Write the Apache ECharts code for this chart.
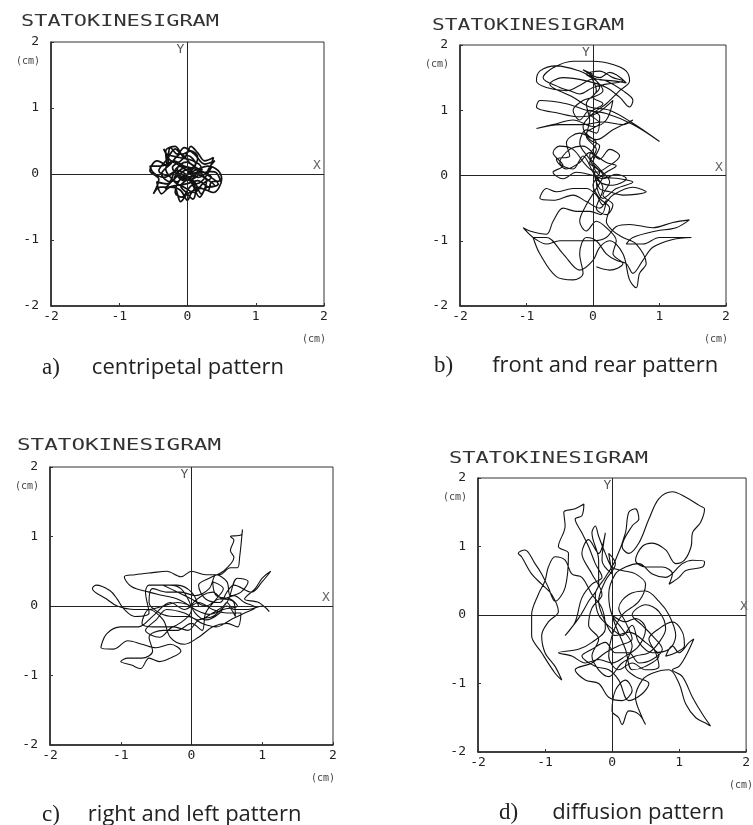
<!DOCTYPE html>
<html>
<head>
  <meta charset="utf-8">
  <title>Statokinesigram patterns</title>
  <script src="https://cdn.jsdelivr.net/npm/echarts@6/dist/echarts.min.js"></script>
  <style>
    html, body { margin: 0; padding: 0; background: #fff; }
    #main { width: 753px; height: 825px; }
  </style>
</head>
<body>
  <div id="main"></div>
  <script type="text/javascript">
    // sway traces, [x, y] in cm
    var tickValues = [-2, -1, 0, 1, 2];
    var captionTags = ['a)', 'b)', 'c)', 'd)'];
    var captionTexts = ['centripetal pattern', 'front and rear pattern', 'right and left pattern', 'diffusion pattern'];

    var traceA = [
      [0,0],[0.05,0.08],[-0.1,0.12],[-0.18,0.05],[-0.05,-0.1],[0.12,-0.05],[0.2,0.1],[0.08,0.2],[-0.12,0.25],[-0.3,0.3],
      [-0.35,0.38],[-0.28,0.18],[-0.4,0.12],[-0.55,0.12],[-0.5,0.02],[-0.35,-0.05],[-0.2,0.02],[-0.3,-0.15],[-0.45,-0.12],[-0.38,-0.3],
      [-0.25,-0.2],[-0.1,-0.25],[0,-0.4],[0.05,-0.3],[0.15,-0.2],[0.3,-0.25],[0.35,-0.12],[0.48,-0.1],[0.42,0.02],[0.3,0.05],
      [0.4,0.2],[0.25,0.15],[0.1,0.3],[-0.05,0.4],[-0.15,0.3],[-0.25,0.4],[-0.28,0.25],[-0.15,0.15],[0,0.05],[0.18,-0.02],
      [0.28,-0.1],[0.2,-0.3],[0.1,-0.12],[-0.05,-0.02],[-0.15,-0.12],[-0.25,-0.05],[-0.32,0.08],[-0.2,0.2],[-0.05,0.12],[0.1,0.08],
      [0.25,0.02],[0.35,0.1],[0.2,-0.12],[0.05,-0.18],[-0.08,-0.35],[-0.18,-0.28],[-0.12,-0.1],[0.02,0.02],[0.12,0.15],[0,0.28],
      [-0.1,0.2],[-0.22,0.1],[-0.12,-0.02],[0.05,-0.08],[0.18,0.05],[0.3,-0.02],[0.45,-0.15],[0.32,-0.2],[0.15,-0.1],[-0.02,-0.15],
      [-0.2,-0.18],[-0.33,-0.22],[-0.2,-0.08],[-0.05,0.05],[0.08,0.1],[0.15,0.25],[0.05,0.35],[-0.08,0.3],[-0.18,0.38],[-0.3,0.22],
      [-0.42,0.05],[-0.3,-0.02],[-0.15,0.05],[0.02,-0.05],[0.12,-0.25],[0.08,-0.38],[-0.02,-0.28],[-0.1,-0.18],[0.05,-0.05],[0.22,0.08],
      [0.12,0.02],[0,0],[0.1,0.05],[0.3,0.12],[0.45,0.05],[0.5,-0.08],[0.38,-0.28],[0.2,-0.22],[0,-0.3],[-0.1,-0.42],
      [-0.2,-0.2],[-0.4,-0.2],[-0.5,-0.3],[-0.42,-0.08],[-0.55,0.05],[-0.45,0.2],[-0.3,0.12],[-0.32,0.35],[-0.18,0.42],[-0.05,0.25],
      [0.05,0.42],[0.15,0.32],[0.25,0.2],[0.38,0.25],[0.3,0.05],[0.15,-0.05],[0,0.1],[-0.12,0.05],[-0.2,-0.1],[-0.05,-0.2],
      [0.1,-0.28],[0.22,-0.15],[0.35,-0.05],[0.2,0.05],[0.05,0.15],[-0.1,0.3],[-0.25,0.15],[-0.38,0],[-0.25,-0.12],[-0.1,0],
      [0.05,-0.12],[0.18,-0.35],[0.28,-0.2],[0.4,-0.18],[0.25,-0.05],[0.12,0.1],[-0.02,0.18],[-0.15,0.08],[-0.05,-0.08],[0.1,0]
    ];

    var traceB = [
      [0,1.55],[-0.15,1.62],[0.1,1.5],[0.25,1.58],[0.5,1.42],[0.3,1.45],[0.05,1.48],[-0.2,1.6],[-0.55,1.68],[-0.8,1.6],
      [-0.85,1.45],[-0.7,1.35],[-0.4,1.3],[-0.2,1.38],[0,1.48],[0.2,1.45],[0.45,1.3],[0.6,1.15],[0.55,1.05],[0.4,1.2],
      [0.2,1.35],[-0.1,1.45],[-0.45,1.5],[-0.65,1.4],[-0.3,1.2],[-0.05,1.05],[0.25,1.0],[0.6,0.8],[1.0,0.52],[0.6,0.78],
      [0.2,0.95],[-0.1,1.0],[-0.4,1.1],[-0.8,1.15],[-0.85,1.05],[-0.5,0.95],[-0.2,0.9],[0.05,0.95],[0.3,1.15],[0.2,0.85],
      [0,0.75],[-0.3,0.85],[-0.6,0.78],[-0.85,0.72],[-0.5,0.78],[-0.15,0.78],[0.15,0.82],[0.45,0.78],[0.6,0.85],[0.3,0.7],
      [0.05,0.55],[-0.2,0.65],[-0.4,0.5],[-0.35,0.3],[-0.55,0.25],[-0.4,0.1],[-0.2,0.2],[-0.05,0.35],[0.1,0.25],[0.25,0.4],
      [0.4,0.3],[0.2,0.12],[0.05,0.05],[-0.1,0.15],[-0.3,0.4],[-0.5,0.45],[-0.6,0.35],[-0.45,0.15],[-0.6,0.05],[-0.45,-0.05],
      [-0.25,0.05],[0,0],[0.15,-0.05],[0.35,0.02],[0.5,-0.05],[0.3,-0.15],[0.1,-0.1],[0,0.1],[0.1,-0.2],[0.25,-0.25],
      [0.45,-0.3],[0.8,-0.25],[0.6,-0.18],[0.3,-0.3],[0.15,-0.45],[0.05,-0.3],[-0.1,-0.2],[-0.3,-0.2],[-0.55,-0.25],[-0.7,-0.2],
      [-0.8,-0.35],[-0.6,-0.38],[-0.3,-0.3],[-0.1,-0.4],[0.1,-0.5],[0.2,-0.38],[0.12,-0.6],[-0.05,-0.55],[-0.25,-0.55],[-0.45,-0.5],
      [-0.6,-0.7],[-0.7,-0.9],[-0.95,-0.85],[-1.05,-0.8],[-0.9,-0.95],[-0.7,-1.05],[-0.5,-1.0],[-0.3,-1.0],[0,-1.0],[0.2,-0.95],
      [0.35,-0.78],[0.55,-0.75],[0.9,-0.8],[1.2,-0.72],[1.45,-0.68],[1.25,-0.8],[0.95,-0.85],[0.6,-0.95],[0.5,-1.05],[0.75,-1.05],
      [1.0,-0.95],[1.2,-0.95],[1.48,-0.95],[1.2,-0.98],[0.9,-1.1],[0.75,-1.3],[0.6,-1.5],[0.5,-1.35],[0.35,-1.3],[0.2,-1.2],
      [0.05,-1.0],[-0.1,-0.95],[-0.2,-1.2],[-0.15,-1.5],[-0.3,-1.6],[-0.55,-1.55],[-0.8,-1.2],[-0.9,-0.95],[-0.7,-0.95],[-0.45,-1.2],
      [-0.2,-1.45],[0,-1.3],[0.1,-1.1],[0.25,-1.0],[0.45,-1.2],[0.55,-1.6],[0.65,-1.72],[0.7,-1.5],[0.8,-1.35],[0.65,-1.05],
      [0.45,-0.95],[0.3,-0.85],[0.2,-0.7],[0.25,-0.5],[0.1,-0.35],[0,-0.15],[0.1,0.05],[-0.05,0.2],[0.05,0.4],[-0.1,0.6],
      [-0.05,0.85],[-0.1,1.1],[0.05,1.3],[-0.05,1.55],[0.1,1.35],[0,1.2],[0.15,1.1],[-0.05,0.95],[0.1,0.8],[-0.1,0.65],
      [0.05,0.5],[-0.05,0.3],[0.1,0.1],[0.25,-0.1],[0.15,-0.3],[0.3,-0.45],[0.2,-0.6],[0.05,-0.5],[0.15,-0.2],[0,0.05],
      [-0.15,0.3],[-0.3,0.1],[-0.5,0.2],[-0.35,0.4],[-0.15,0.45],[0.05,0.3],[0.2,0.2],[0.35,0.15],[0.2,0.05],[0.05,-0.1],
      [0.15,-0.35],[0.35,-0.2],[0.6,-0.1],[0.4,-0.05],[0.1,0],[-0.05,0.25],[-0.2,0.5],[-0.1,0.7],[0.05,0.65],[0.1,0.9],
      [-0.05,1.0],[-0.2,0.85],[-0.3,1.0],[-0.15,1.15],[0,1.2],[0.15,1.3],[0.05,1.45],[-0.1,1.55],[0.1,1.6],[0.3,1.5],
      [0.45,1.45],[0.2,1.4],[0,1.35],[-0.2,1.25],[-0.35,1.3],[-0.5,1.35],[-0.75,1.5],[-0.6,1.65],[-0.3,1.75],[0,1.75],
      [0.3,1.7],[0.5,1.6],[0.55,1.45],[0.4,1.3],[0.2,1.1],[0,0.95],[-0.15,0.75],[-0.05,0.55],[0.1,0.45],[0,0.2],
      [0.15,0],[0.05,-0.2],[-0.1,-0.45],[-0.2,-0.7],[-0.1,-0.85],[0.05,-0.7],[0.2,-0.8],[0.35,-1.0],[0.3,-1.2],[0.45,-1.35],
      [0.25,-1.45],[0.05,-1.4]
    ];

    var traceC = [
      [0,0],[-0.2,0.05],[-0.4,0],[-0.6,-0.05],[-0.8,-0.05],[-1.05,0],[-1.2,0.1],[-1.4,0.25],[-1.35,0.3],[-1.15,0.22],
      [-1.05,0.1],[-0.95,-0.05],[-0.8,-0.15],[-0.6,-0.1],[-0.65,0.2],[-0.6,0.3],[-0.3,0.3],[-0.15,0.25],[-0.05,0.1],[0.05,-0.1],
      [0.2,-0.2],[0.4,-0.1],[0.5,0.05],[0.6,-0.05],[0.8,-0.05],[1.0,0],[1.1,-0.08],[0.95,0.05],[0.75,0.1],[0.9,0.25],
      [1.0,0.4],[1.12,0.5],[1.0,0.35],[0.85,0.2],[0.6,0.3],[0.5,0.2],[0.4,0.05],[0.2,0.1],[0.1,0.3],[0.25,0.4],
      [0.45,0.5],[0.6,0.7],[0.55,0.8],[0.6,0.95],[0.55,1.0],[0.7,1.02],[0.72,1.1],[0.68,0.7],[0.65,0.55],[0.55,0.55],
      [0.4,0.45],[0.2,0.45],[0,0.5],[-0.15,0.42],[-0.35,0.5],[-0.55,0.48],[-0.8,0.45],[-0.95,0.42],[-0.85,0.28],[-0.6,0.2],
      [-0.4,0.15],[-0.2,0.1],[0,-0.05],[-0.1,-0.2],[-0.3,-0.3],[-0.5,-0.3],[-0.7,-0.25],[-0.6,-0.05],[-0.4,-0.2],[-0.3,-0.45],
      [-0.1,-0.55],[0.1,-0.45],[0.3,-0.3],[0.5,-0.25],[0.65,-0.3],[0.7,-0.1],[0.5,-0.1],[0.3,-0.05],[0.1,0.05],[-0.1,-0.05],
      [-0.3,0.05],[-0.55,-0.15],[-0.75,-0.3],[-1.0,-0.3],[-1.2,-0.4],[-1.28,-0.6],[-1.1,-0.62],[-0.9,-0.5],[-0.7,-0.55],[-0.5,-0.6],
      [-0.3,-0.55],[-0.15,-0.65],[-0.3,-0.75],[-0.45,-0.8],[-0.6,-0.75],[-0.72,-0.9],[-0.85,-0.85],[-1.0,-0.8],[-0.9,-0.75],[-0.7,-0.75],
      [-0.55,-0.65],[-0.6,-0.45],[-0.4,-0.35],[-0.2,-0.35],[0,-0.25],[0.15,-0.35],[0.2,-0.1],[0.35,0.1],[0.45,0.25],[0.3,0.35],
      [0.35,0.15],[0.55,0.1],[0.65,0],[0.45,-0.05],[0.25,-0.12],[0.05,-0.05],[0,0],[0.15,0.15],[0.3,0.2],[0.45,0.1],
      [0.6,0.15],[0.75,0.05],[0.9,-0.02],[0.75,-0.1],[0.55,-0.2],[0.35,-0.3],[0.15,-0.25],[-0.05,-0.15],[-0.25,-0.15],[-0.45,-0.1],
      [-0.6,0.05],[-0.55,0.25],[-0.35,0.2],[-0.15,0.2],[0.05,0.15],[0.25,0.25],[0.35,0.45],[0.5,0.35],[0.55,0.15],[0.7,0.2],
      [0.8,0.35],[0.65,0.4],[0.5,0.05],[0.3,-0.1],[0.1,-0.2],[-0.1,-0.1],[-0.35,-0.05],[-0.5,-0.2],[-0.65,-0.35],[-0.45,-0.45],
      [-0.25,-0.3],[-0.05,-0.35],[0.1,-0.2],[0.3,-0.15],[0.5,0],[0.62,-0.15],[0.6,0.05],[0.4,0.1],[0.2,0],[0,0.1],
      [-0.2,0.2],[-0.4,0.3],[-0.2,0.3],[0,0.2],[0.1,0]
    ];

    var traceD = [
      [0,0],[0.2,-0.1],[0.35,-0.05],[0.5,-0.2],[0.4,-0.45],[0.2,-0.6],[0,-0.7],[-0.2,-0.65],[-0.4,-0.7],[-0.6,-0.6],
      [-0.8,-0.55],[-0.5,-0.5],[-0.3,-0.4],[-0.1,-0.2],[-0.15,0.1],[-0.3,0.3],[-0.45,0.55],[-0.6,0.6],[-0.7,0.8],[-0.85,0.85],
      [-0.95,0.7],[-1.0,0.5],[-1.1,0.3],[-1.2,0],[-1.2,-0.3],[-1.05,-0.55],[-0.85,-0.85],[-0.75,-0.95],[-0.85,-0.75],[-1.0,-0.55],
      [-1.05,-0.3],[-0.95,-0.1],[-0.8,0.05],[-0.9,0.3],[-1.05,0.45],[-1.2,0.6],[-1.35,0.85],[-1.4,0.9],[-1.3,0.95],[-1.15,0.75],
      [-1.05,0.6],[-0.95,0.4],[-0.85,0.2],[-0.7,0.4],[-0.65,0.9],[-0.8,1.0],[-0.7,1.3],[-0.72,1.5],[-0.55,1.55],[-0.42,1.62],
      [-0.45,1.45],[-0.55,1.4],[-0.45,1.2],[-0.35,1.0],[-0.25,0.75],[-0.15,0.55],[-0.3,0.45],[-0.45,0.25],[-0.55,-0.1],[-0.7,-0.3],
      [-0.5,-0.05],[-0.35,0.2],[-0.2,0.45],[-0.2,0.8],[-0.3,1.2],[-0.25,1.3],[-0.2,1.15],[-0.1,0.9],[0,0.7],[0.15,0.65],
      [0.35,0.6],[0.5,0.45],[0.4,0.2],[0.15,0],[0,-0.3],[-0.05,-0.6],[0.1,-0.8],[0.3,-0.7],[0.5,-0.8],[0.7,-0.75],
      [0.65,-0.55],[0.55,-0.35],[0.7,-0.2],[0.9,-0.1],[1.05,-0.25],[1.08,-0.45],[0.95,-0.55],[0.8,-0.6],[0.9,-0.45],[1.0,-0.55],
      [1.15,-0.4],[1.22,-0.35],[1.1,-0.6],[1.0,-0.75],[0.9,-0.8],[1.05,-0.9],[1.2,-1.2],[1.35,-1.45],[1.47,-1.62],[1.4,-1.58],
      [1.25,-1.5],[1.1,-1.3],[1.0,-1.0],[0.85,-0.8],[0.6,-0.85],[0.45,-0.95],[0.35,-1.2],[0.45,-1.5],[0.5,-1.6],[0.4,-1.45],
      [0.25,-1.4],[0.15,-1.6],[0.1,-1.5],[0,-1.4],[0.05,-1.1],[0.2,-0.95],[0.3,-1.1],[0.15,-1.25],[-0.05,-1.2],[-0.2,-1.0],
      [-0.4,-0.95],[-0.55,-0.8],[-0.3,-0.7],[-0.1,-0.55],[0.1,-0.45],[0.3,-0.35],[0.2,-0.1],[0.1,0.1],[0.25,0.3],[0.5,0.35],
      [0.7,0.2],[0.85,0],[0.95,-0.3],[0.85,-0.5],[0.6,-0.55],[0.4,-0.4],[0.3,-0.15],[0.15,-0.3],[0,-0.2],[-0.2,0],
      [-0.25,0.3],[-0.1,0.55],[0.05,0.8],[0.2,1.2],[0.25,1.5],[0.35,1.55],[0.4,1.4],[0.3,1.3],[0.15,1.0],[0.25,0.9],
      [0.4,1.05],[0.55,1.4],[0.7,1.7],[0.9,1.8],[1.1,1.72],[1.3,1.6],[1.38,1.55],[1.32,1.35],[1.2,1.2],[1.18,1.0],
      [1.08,0.8],[0.95,0.75],[0.8,0.95],[0.6,1.05],[0.45,1.0],[0.35,0.8],[0.5,0.7],[0.75,0.7],[0.9,0.6],[0.85,0.45],
      [1.0,0.55],[1.1,0.65],[1.35,0.7],[1.38,0.78],[1.2,0.8],[1.05,0.75],[0.8,0.55],[0.6,0.6],[0.4,0.75],[0.2,0.7],
      [0.05,0.6],[-0.05,0.3],[0,0],[0.15,-0.2],[0.3,-0.45],[0.2,-0.75],[0.35,-0.9],[0.55,-1.0],[0.45,-1.15],[0.25,-1.25],
      [0.1,-0.95],[-0.05,-0.8],[-0.25,-0.75],[-0.45,-0.6],[-0.3,-0.5],[-0.1,-0.4],[0.05,-0.55],[0.25,-0.55],[0.4,-0.7],[0.6,-0.65],
      [0.75,-0.5],[0.6,-0.3],[0.45,-0.15],[0.3,0],[0.5,0.15],[0.7,0.05],[0.8,-0.2],[0.7,-0.4],[0.55,-0.55],[0.35,-0.6],
      [0.15,-0.7],[-0.05,-0.9],[-0.2,-0.8],[-0.3,-0.6],[-0.2,-0.35],[-0.35,-0.15],[-0.3,0.1],[-0.15,0.3],[-0.3,0.6],[-0.45,0.9],
      [-0.35,1.1],[-0.2,0.9],[-0.1,1.2],[-0.15,0.8],[0,0.6],[-0.05,0.9],[0.05,0.75],[-0.1,0.5],[-0.2,0.2],[-0.1,-0.1],
      [0.05,-0.3],[0.25,-0.25],[0.5,-0.4],[0.7,-0.6],[0.5,-0.75],[0.3,-0.8],[0.2,-0.5],[0.05,-0.15],[0,0]
    ];

    var traces = [traceA, traceB, traceC, traceD];

    // plot boxes [left, top, right, bottom] in px, title / caption anchors, trace pen width
    var layout = [
      { box: [51, 42, 324, 306],  title: [21, 22, 198],  caption: [42, 368, 32], pen: 1.7 },
      { box: [460, 45, 726, 306], title: [432, 26, 192], caption: [434, 366, 39], pen: 1.1 },
      { box: [50, 467, 333, 745], title: [17, 446, 204], caption: [42, 815, 28], pen: 1.1 },
      { box: [478, 478, 751, 752], title: [449, 459, 199], caption: [499, 813, 34], pen: 1.1 }
    ];

    var mono = '"DejaVu Sans Mono", monospace';
    var ink = '#111';

    var grids = [], xAxes = [], yAxes = [], series = [], graphic = [];

    layout.forEach(function (p, i) {
      var b = p.box;
      grids.push({
        left: b[0], top: b[1], width: b[2] - b[0], height: b[3] - b[1],
        show: true, borderColor: '#333', borderWidth: 1, backgroundColor: 'transparent'
      });
      var axisCommon = {
        gridIndex: i, type: 'value', min: tickValues[0], max: tickValues[tickValues.length - 1], interval: 1,
        axisLine: { show: true, onZero: false, lineStyle: { color: '#222', width: 1.5 } },
        axisTick: { show: true, inside: true, length: 3, lineStyle: { color: '#333' } },
        splitLine: { show: false },
        axisLabel: { fontFamily: mono, fontSize: 13, color: '#222' }
      };
      xAxes.push(echarts.util.merge({ position: 'bottom', axisLabel: { margin: 4 } }, axisCommon, true));
      yAxes.push(echarts.util.merge({ position: 'left', axisLabel: { margin: 12 } }, axisCommon, true));

      series.push({
        type: 'line',
        xAxisIndex: i, yAxisIndex: i,
        data: traces[i],
        showSymbol: false,
        smooth: 0.35,
        lineStyle: { color: ink, width: p.pen },
        silent: true,
        markLine: {
          silent: true,
          symbol: 'none',
          label: { show: false },
          lineStyle: { color: '#222', type: 'solid', width: 1 },
          data: [{ xAxis: 0 }, { yAxis: 0 }]
        }
      });

      var cx = (b[0] + b[2]) / 2, cy = (b[1] + b[3]) / 2;

      // title, stretched like the printer font
      graphic.push({
        type: 'text', x: p.title[0], y: p.title[1], scaleX: p.title[2] / 144.5,
        style: { text: 'STATOKINESIGRAM', fontFamily: mono, fontSize: 16, fill: '#333', align: 'left', verticalAlign: 'middle' }
      });
      // units
      graphic.push({
        type: 'text', x: b[0] - 23, y: b[1] + 19,
        style: { text: '(cm)', fontFamily: mono, fontSize: 10, fill: '#444', align: 'center', verticalAlign: 'middle' }
      });
      graphic.push({
        type: 'text', x: b[2] + 2, y: b[3] + 33,
        style: { text: '(cm)', fontFamily: mono, fontSize: 10, fill: '#444', align: 'right', verticalAlign: 'middle' }
      });
      // axis letters
      graphic.push({
        type: 'text', x: b[2] - 7, y: cy - 8,
        style: { text: 'X', fontFamily: mono, fontSize: 13, fill: '#666', align: 'center', verticalAlign: 'middle' }
      });
      graphic.push({
        type: 'text', x: cx - 7, y: b[1] + 8,
        style: { text: 'Y', fontFamily: mono, fontSize: 13, fill: '#555', align: 'center', verticalAlign: 'middle' }
      });
      // caption
      graphic.push({
        type: 'text', x: p.caption[0], y: p.caption[1],
        style: {
          text: '{p|' + captionTags[i] + '}{g| }{t|' + captionTexts[i] + '}',
          align: 'left', verticalAlign: 'middle',
          rich: {
            p: { fontFamily: '"Liberation Serif", serif', fontSize: 23, fill: '#222' },
            g: { width: p.caption[2], fontSize: 20 },
            t: { fontFamily: '"Open Sans", sans-serif', fontSize: 22, fill: '#222' }
          }
        }
      });
    });

    var myChart = echarts.init(document.getElementById('main'), null, { renderer: 'canvas' });
    myChart.setOption({
      backgroundColor: '#fff',
      animation: false,
      grid: grids,
      xAxis: xAxes,
      yAxis: yAxes,
      series: series,
      graphic: graphic
    });
  </script>
</body>
</html>
